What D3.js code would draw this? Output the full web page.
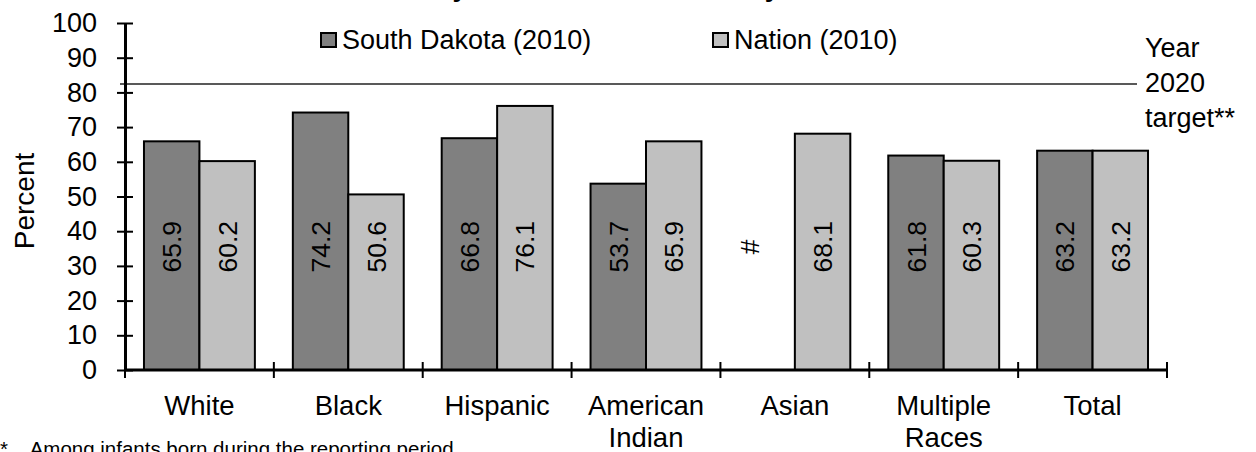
<!DOCTYPE html>
<meta charset="utf-8">
<script src="https://d3js.org/d3.v7.min.js"></script>
<style>
  body { margin: 0; background: #fff; }
  #chart text { font-family: "Liberation Sans", Arial, sans-serif; fill: #000; }
</style>
<div id="chart"></div>
<script>
// data
var categories = ["White", "Black", "Hispanic", "American Indian", "Asian", "Multiple Races", "Total"];
var seriesNames = ["South Dakota (2010)", "Nation (2010)"];
var sdValues = [65.9, 74.2, 66.8, 53.7, null, 61.8, 63.2];
var nationValues = [60.2, 50.6, 76.1, 65.9, 68.1, 60.3, 63.2];
var yTicks = [0, 10, 20, 30, 40, 50, 60, 70, 80, 90, 100];
var targetValue = 82.4;
var targetLabel = ["Year", "2020", "target**"];
var missingMark = "#";
var titleText = "Infants Ever Breastfed by Maternal Race/Ethnicity*";
var footnoteText = "*    Among infants born during the reporting period";

var W = 1256, H = 452;
var margin = { top: 23, right: 89, bottom: 82, left: 125 };
var plotW = W - margin.left - margin.right,
    plotH = H - margin.top - margin.bottom;

var colors = d3.scaleOrdinal().domain(seriesNames).range(["#808080", "#c0c0c0"]);

var svg = d3.select("#chart").append("svg")
  .attr("width", W).attr("height", H);
svg.append("rect").attr("width", W).attr("height", H).attr("fill", "#fff");

var g = svg.append("g").attr("transform", "translate(" + margin.left + "," + margin.top + ")");

var x = d3.scaleBand()
  .domain(categories)
  .range([0, plotW])
  .paddingInner(0.255)
  .paddingOuter(0.1275);

var xSub = d3.scaleBand()
  .domain(seriesNames)
  .range([0, x.bandwidth()]);

var y = d3.scaleLinear().domain([0, 100]).range([plotH, 0]);

var rows = categories.map(function(c, i) {
  return { cat: c, vals: [
    { key: seriesNames[0], value: sdValues[i] },
    { key: seriesNames[1], value: nationValues[i] }
  ]};
});

// bars
var groups = g.selectAll(".grp").data(rows).enter().append("g")
  .attr("class", "grp")
  .attr("transform", function(d) { return "translate(" + x(d.cat) + ",0)"; });

groups.selectAll("rect")
  .data(function(d) { return d.vals.filter(function(v) { return v.value != null; }); })
  .enter().append("rect")
  .attr("x", function(d) { return xSub(d.key); })
  .attr("y", function(d) { return y(d.value); })
  .attr("width", xSub.bandwidth())
  .attr("height", function(d) { return plotH - y(d.value); })
  .attr("fill", function(d) { return colors(d.key); })
  .attr("stroke", "#000")
  .attr("stroke-width", 2);

// value labels, rotated
var labelY = y(35.5);
groups.selectAll("text.val")
  .data(function(d) { return d.vals; })
  .enter().append("text")
  .attr("class", "val")
  .attr("transform", function(d) {
    var cx = d.value == null ? xSub(d.key) + xSub.bandwidth() * 0.18 : xSub(d.key) + xSub.bandwidth() / 2;
    return "translate(" + cx + "," + labelY + ") rotate(-90)";
  })
  .attr("text-anchor", "middle")
  .attr("dy", "0.36em")
  .style("font-size", "26.5px")
  .text(function(d) { return d.value == null ? missingMark : d.value.toFixed(1); });

// target line
g.append("line")
  .attr("x1", -5).attr("x2", 1137 - margin.left)
  .attr("y1", y(targetValue)).attr("y2", y(targetValue))
  .attr("stroke", "#222").attr("stroke-width", 1.6);

g.append("text")
  .attr("x", 1145 - margin.left)
  .attr("y", 57 - margin.top)
  .style("font-size", "27px")
  .selectAll("tspan").data(targetLabel).enter().append("tspan")
  .attr("x", 1145 - margin.left)
  .attr("dy", function(d, i) { return i === 0 ? 0 : 35; })
  .text(function(d) { return d; });

// y axis
var yAxis = g.append("g").call(
  d3.axisLeft(y).tickValues(yTicks).tickSizeInner(8).tickSizeOuter(0).tickPadding(20)
);
yAxis.select(".domain").attr("stroke", "#000").attr("stroke-width", 3);
yAxis.selectAll(".tick line").attr("x2", 8).attr("x1", -8).attr("stroke", "#000").attr("stroke-width", 2);
yAxis.selectAll(".tick text").style("font-size", "27px").attr("x", -28);

// x axis: line with ticks at the category boundaries
g.append("line")
  .attr("x1", 0).attr("x2", plotW)
  .attr("y1", plotH).attr("y2", plotH)
  .attr("stroke", "#000").attr("stroke-width", 3);

var step = x.step();
var bounds = d3.range(categories.length + 1).map(function(i) { return x(categories[0]) - x.paddingOuter() * step + i * step; });
g.selectAll(".xtick").data(bounds).enter().append("line")
  .attr("class", "xtick")
  .attr("x1", function(d) { return d; }).attr("x2", function(d) { return d; })
  .attr("y1", plotH - 8).attr("y2", plotH + 8)
  .attr("stroke", "#000").attr("stroke-width", 2);

// category labels
var catText = g.selectAll(".cat").data(categories).enter().append("text")
  .attr("class", "cat")
  .attr("text-anchor", "middle")
  .attr("y", 415 - margin.top)
  .style("font-size", "27.5px");
catText.selectAll("tspan")
  .data(function(d) { return d.split(" ").map(function(w) { return { w: w, c: d }; }); })
  .enter().append("tspan")
  .attr("x", function(d) { return x(d.c) + x.bandwidth() / 2; })
  .attr("dy", function(d, i) { return i === 0 ? 0 : 32; })
  .text(function(d) { return d.w; });

// y axis title
svg.append("text")
  .attr("transform", "translate(34," + 201 + ") rotate(-90)")
  .attr("text-anchor", "middle")
  .style("font-size", "28px")
  .text("Percent");

// legend
var legendX = [321, 713];
var leg = svg.selectAll(".leg").data(seriesNames).enter().append("g")
  .attr("class", "leg")
  .attr("transform", function(d, i) { return "translate(" + legendX[i] + ",0)"; });
leg.append("rect")
  .attr("x", 0).attr("y", 33).attr("width", 15).attr("height", 14)
  .attr("fill", function(d) { return colors(d); })
  .attr("stroke", "#000").attr("stroke-width", 2);
leg.append("text")
  .attr("x", 21).attr("y", 49)
  .style("font-size", "27px")
  .text(function(d) { return d; });

// title (mostly above the picture) and footnote (cut at the bottom)
svg.append("text")
  .attr("x", 142).attr("y", -4)
  .style("font-size", "27px").style("font-weight", "bold")
  .text(titleText);

svg.append("text")
  .attr("x", 0).attr("y", 456)
  .style("font-size", "20.5px")
  .attr("xml:space", "preserve")
  .style("white-space", "pre")
  .text(footnoteText);
</script>
